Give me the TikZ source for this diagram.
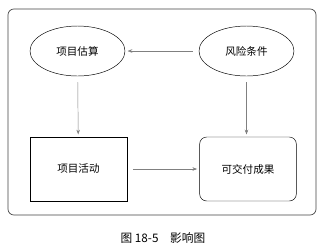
\documentclass[tikz,border=0pt]{standalone}
\usepackage{fontspec}
\newfontfamily\cjk{Noto Sans CJK SC}
\usetikzlibrary{shapes.geometric,arrows.meta}
\begin{document}
\begin{tikzpicture}[x=0.3mm,y=-0.3mm,
    every node/.style={font=\cjk\fontsize{9}{11}\selectfont},
    oval/.style={draw, ellipse, minimum width=28.5mm, minimum height=15mm, inner sep=0pt},
    box/.style={draw, minimum width=29mm, minimum height=19.2mm, inner sep=0pt},
    link/.style={draw=gray, -{Stealth[length=4pt,width=3pt]}, shorten >=2pt, shorten <=5pt}]
        \useasboundingbox (0,0) rectangle (327,246);
        \draw[black!75, semithick, rounded corners=5pt] (8,9) rectangle (316,215);

        \node[oval] (est) at (77.5,51) {项目估算};
        \node[oval] (risk) at (246.5,51) {风险条件};
        \node[box] (act) at (78.5,169) {项目活动};
        \node[box, rounded corners=6pt] (out) at (248,169) {可交付成果};

        \draw[link] (risk) -- (est);
        \draw[link] (est) -- (act);
        \draw[link] (risk) -- (risk |- out.north);
        \draw[link] (act) -- (out);

        \node[font=\cjk\fontsize{10}{12}\selectfont] (cap) at (163,238) {图 18-5\quad 影响图};
\end{tikzpicture}
\end{document}
